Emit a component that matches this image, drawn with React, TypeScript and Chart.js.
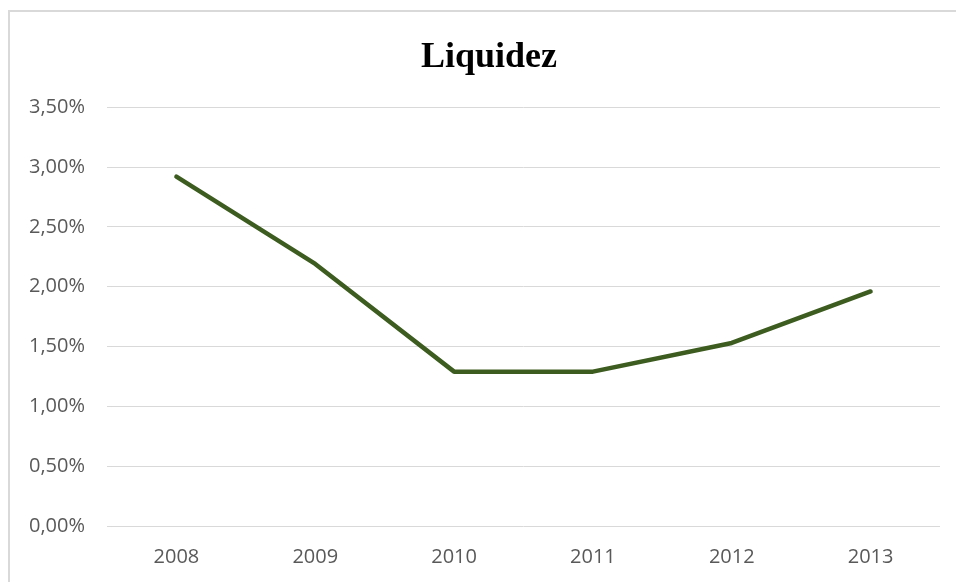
import React, { useEffect, useRef } from "react";
import { Chart, registerables } from "chart.js";

Chart.register(...registerables);

const TITLE = "Liquidez";
const CATEGORIES = ["2008", "2009", "2010", "2011", "2012", "2013"];
const LIQUIDEZ = [2.92, 2.19, 1.29, 1.29, 1.53, 1.96];
const Y_MIN = 0;
const Y_MAX = 3.5;
const Y_STEP = 0.5;

const fmtPct = (v: number) => v.toFixed(2).replace(".", ",") + "%";

export default function App() {
  const ref = useRef<HTMLCanvasElement | null>(null);

  useEffect(() => {
    if (!ref.current) return;
    const chart = new Chart(ref.current, {
      type: "line",
      data: {
        labels: CATEGORIES,
        datasets: [
          {
            label: TITLE,
            data: LIQUIDEZ,
            borderColor: "#3d5c1f",
            backgroundColor: "#3d5c1f",
            borderWidth: 4.5,
            borderCapStyle: "round",
            borderJoinStyle: "round",
            pointRadius: 0,
            pointHoverRadius: 0,
            tension: 0,
            fill: false,
            yAxisID: "y",
          },
        ],
      },
      options: {
        animation: false,
        responsive: false,
        maintainAspectRatio: false,
        layout: { padding: { left: 0, right: 0, top: 0, bottom: 13 } },
        plugins: {
          legend: { display: false },
          tooltip: { enabled: false },
          title: {
            display: true,
            text: TITLE,
            color: "#000000",
            font: { family: "'Liberation Serif', 'Times New Roman', serif", size: 36, weight: "bold" },
            padding: { top: 24, bottom: 28 },
          },
        },
        scales: {
          x: {
            offset: true,
            grid: { display: false, drawTicks: false },
            border: { display: false },
            ticks: {
              color: "#595959",
              font: { family: "'Open Sans', sans-serif", size: 20 },
              padding: 19,
              maxRotation: 0,
            },
            afterFit: (s: any) => {
              s.height = 43;
            },
          },
          y: {
            min: Y_MIN,
            max: Y_MAX,
            grid: { color: "#d9d9d9", lineWidth: 1, drawTicks: false },
            border: { display: false },
            ticks: {
              stepSize: Y_STEP,
              color: "#595959",
              font: { family: "'Open Sans', sans-serif", size: 20 },
              padding: 22,
              callback: (v: any) => fmtPct(Number(v)),
            },
            afterFit: (s: any) => {
              s.width = 97;
            },
          },
          yRight: {
            type: "linear",
            position: "right",
            min: Y_MIN,
            max: Y_MAX,
            grid: { display: false, drawTicks: false },
            border: { display: false },
            ticks: { display: false },
            afterFit: (s: any) => {
              s.width = 28;
            },
          },
        },
      },
    });
    return () => chart.destroy();
  }, []);

  return (
    <div
      style={{
        position: "fixed",
        left: 0,
        top: 0,
        width: 956,
        height: 582,
        overflow: "hidden",
        background: "#ffffff",
      }}
    >
      <div
        style={{
          position: "absolute",
          left: 8,
          top: 10,
          width: 962,
          height: 600,
          border: "2px solid #d9d9d9",
          boxSizing: "border-box",
        }}
      />
      <canvas
        ref={ref}
        width={958}
        height={570}
        style={{ position: "absolute", left: 10, top: 12, width: 958, height: 570 }}
      />
    </div>
  );
}
